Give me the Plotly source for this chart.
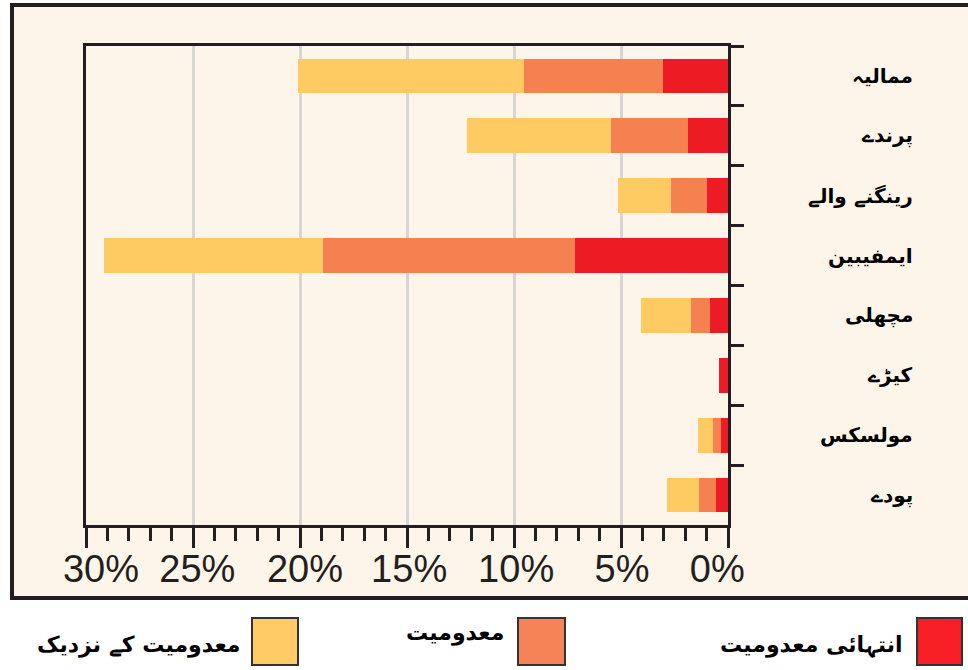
import plotly.graph_objects as go

# ---- data (percent of species) ----
categories = ["ممالیہ", "پرندے", "رینگنے والے", "ایمفیبین", "مچھلی", "کیڑے", "مولسکس", "پودے"]
critically_endangered = [3.02, 1.86, 0.97, 7.13, 0.83, 0.41, 0.32, 0.55]
endangered = [6.49, 3.63, 1.68, 11.80, 0.89, 0.00, 0.37, 0.79]
vulnerable = [10.59, 6.72, 2.47, 10.21, 2.33, 0.00, 0.70, 1.50]

series_names = ["انتہائی معدومیت", "معدومیت", "معدومیت کے نزدیک"]
series_values = [critically_endangered, endangered, vulnerable]
series_colors = ["#ed1c24", "#f58151", "#fecb63"]
legend_colors = ["#f71e26", "#f68358", "#fecb66"]

x_tickvals = [30, 25, 20, 15, 10, 5, 0]
x_ticktext = ["30%", "25%", "20%", "15%", "10%", "5%", "0%"]
# label anchor positions (end labels pulled inward as in the original)
x_label_pos = [29.3, 24.8, 19.77, 14.9, 9.9, 4.95, 0.5]

# ---- layout geometry (pixels) ----
W, H = 968, 670
L, R, T, B = 86, 728, 46, 525
AXC = "#231f20"
BG = "#fef5ea"


def px_x(p):
    return (p - L) / (R - L)


def px_y(p):
    return (B - p) / (B - T)


fig = go.Figure()
for name, vals, col in zip(series_names, series_values, series_colors):
    fig.add_trace(go.Bar(
        y=categories, x=vals, name=name, orientation="h",
        marker=dict(color=col, line=dict(width=0)), width=0.58,
        showlegend=False,
    ))
# invisible trace to activate the label axis
fig.add_trace(go.Scatter(x=[0], y=[categories[0]], xaxis="x2", mode="markers",
                         marker=dict(opacity=0), showlegend=False, hoverinfo="skip"))

shapes = [
    dict(type="rect", xref="paper", yref="paper", layer="below",
         x0=px_x(12), x1=px_x(985), y0=px_y(598), y1=px_y(5),
         fillcolor=BG, line=dict(color=AXC, width=4)),
]
annotations = []

# category labels on the right
for c in categories:
    annotations.append(dict(
        x=px_x(915), xref="paper", y=c, yref="y", xanchor="right", yanchor="middle",
        text="<b>" + c + "</b>", showarrow=False,
        font=dict(family="DejaVu Sans", size=20, color="#000000"),
    ))

# legend (manual, right-to-left)
legend_items = [
    (series_names[0], legend_colors[0], 917, 962, 905, 645),
    (series_names[1], legend_colors[1], 518, 565, 506, 633),
    (series_names[2], legend_colors[2], 252, 298, 242, 645),
]
for name, col, sx0, sx1, tx, ty in legend_items:
    shapes.append(dict(type="rect", xref="paper", yref="paper",
                       x0=px_x(sx0), x1=px_x(sx1), y0=px_y(665), y1=px_y(618),
                       fillcolor=col, line=dict(color="#333333", width=2)))
    annotations.append(dict(
        x=px_x(tx), xref="paper", y=px_y(ty), yref="paper",
        xanchor="right", yanchor="middle", text="<b>" + name + "</b>", showarrow=False,
        font=dict(family="DejaVu Sans", size=22, color="#000000"),
    ))

fig.update_layout(
    width=W, height=H,
    margin=dict(l=L, r=W - R, t=T, b=H - B, pad=0),
    barmode="stack",
    paper_bgcolor="#ffffff",
    plot_bgcolor="rgba(0,0,0,0)",
    shapes=shapes,
    annotations=annotations,
    showlegend=False,
    hovermode=False,
    xaxis=dict(
        range=[30, 0], tickvals=x_tickvals, showticklabels=False,
        showgrid=True, gridcolor="#d9d5d4", gridwidth=3,
        showline=True, linecolor=AXC, linewidth=3, mirror=True,
        ticks="outside", ticklen=20, tickwidth=3, tickcolor=AXC,
        minor=dict(dtick=1, ticks="outside", ticklen=13, tickwidth=2.5,
                   tickcolor=AXC, showgrid=False),
        zeroline=False, fixedrange=True,
    ),
    xaxis2=dict(
        overlaying="x", side="bottom", range=[30, 0],
        tickvals=x_label_pos, ticktext=x_ticktext, ticks="",
        showgrid=False, showline=False, zeroline=False,
        tickfont=dict(family="Liberation Sans", size=38, color=AXC),
        ticklabelstandoff=18, fixedrange=True,
    ),
    yaxis=dict(
        type="category", autorange="reversed", side="right",
        showline=True, linecolor=AXC, linewidth=3, mirror=True,
        ticks="outside", tickson="boundaries", ticklen=13, tickwidth=3,
        tickcolor=AXC, showticklabels=False, showgrid=False, zeroline=False,
        fixedrange=True,
    ),
)

fig.write_html("out.html", config={"displayModeBar": False},
               post_script="document.body.style.margin='0';")
